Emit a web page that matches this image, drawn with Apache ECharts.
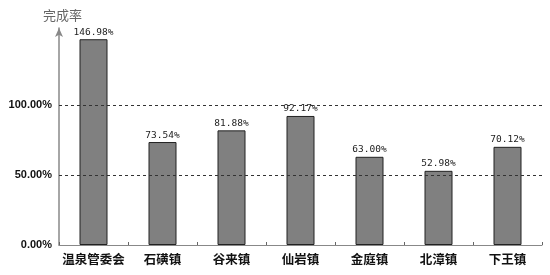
<!DOCTYPE html>
<html><head><meta charset="utf-8">
<script src="https://cdn.jsdelivr.net/npm/echarts@6/dist/echarts.min.js"></script>
<style>html,body{margin:0;padding:0;background:#fff}#c{width:550px;height:275px}</style>
</head><body><div id="c"></div>
<script>
const categories = ['温泉管委会','石磺镇','谷来镇','仙岩镇','金庭镇','北漳镇','下王镇'];
const values = [146.98, 73.54, 81.88, 92.17, 63.00, 52.98, 70.12];
const gridValues = [50, 100];
const axisTitle = '完成率';

const chart = echarts.init(document.getElementById('c'), null, {renderer:'canvas'});
chart.setOption({
  animation: false,
  backgroundColor: '#fff',
  title: {
    text: axisTitle, left: 38, top: 4,
    textStyle: {fontFamily: 'Noto Sans CJK SC', fontSize: 13, fontWeight: 'normal', color: '#666'}
  },
  grid: {left: 59, right: 8, top: 28, bottom: 30, containLabel: false},
  xAxis: {
    type: 'category', data: categories,
    axisLine: {lineStyle: {color: '#888', width: 1}},
    axisTick: {show: true, inside: true, length: 3, lineStyle: {color: '#666'}},
    axisLabel: {interval: 0, fontFamily: 'Noto Sans CJK SC', fontSize: 12.5, fontWeight: 'bold', color: '#111', margin: 8}
  },
  yAxis: {
    type: 'value', min: 0, max: 155, interval: 50,
    axisLine: {show: true, symbol: ['none', 'arrow'], symbolSize: [6, 9], lineStyle: {color: '#888', width: 1.5}},
    axisTick: {show: false},
    splitLine: {show: false},
    axisLabel: {
      fontFamily: 'Liberation Sans', fontSize: 11, fontWeight: 'bold', color: '#111', margin: 7,
      formatter: v => v > 100 ? '' : v.toFixed(2) + '%'
    }
  },
  series: [{
    type: 'line', data: [], z: 1, silent: true,
    markLine: {
      silent: true, symbol: 'none', label: {show: false},
      lineStyle: {color: '#333', type: [3, 3], width: 1},
      data: gridValues.map(v => ({yAxis: v}))
    }
  }, {
    type: 'bar', data: values, barWidth: 28,
    itemStyle: {color: '#808080', borderColor: '#222', borderWidth: 1},
    label: {
      show: true, position: 'top', distance: 2,
      fontFamily: 'DejaVu Sans Mono', fontSize: 9.5, color: '#222',
      formatter: p => p.value.toFixed(2) + '%'
    },
    z: 3
  }]
});
</script></body></html>
